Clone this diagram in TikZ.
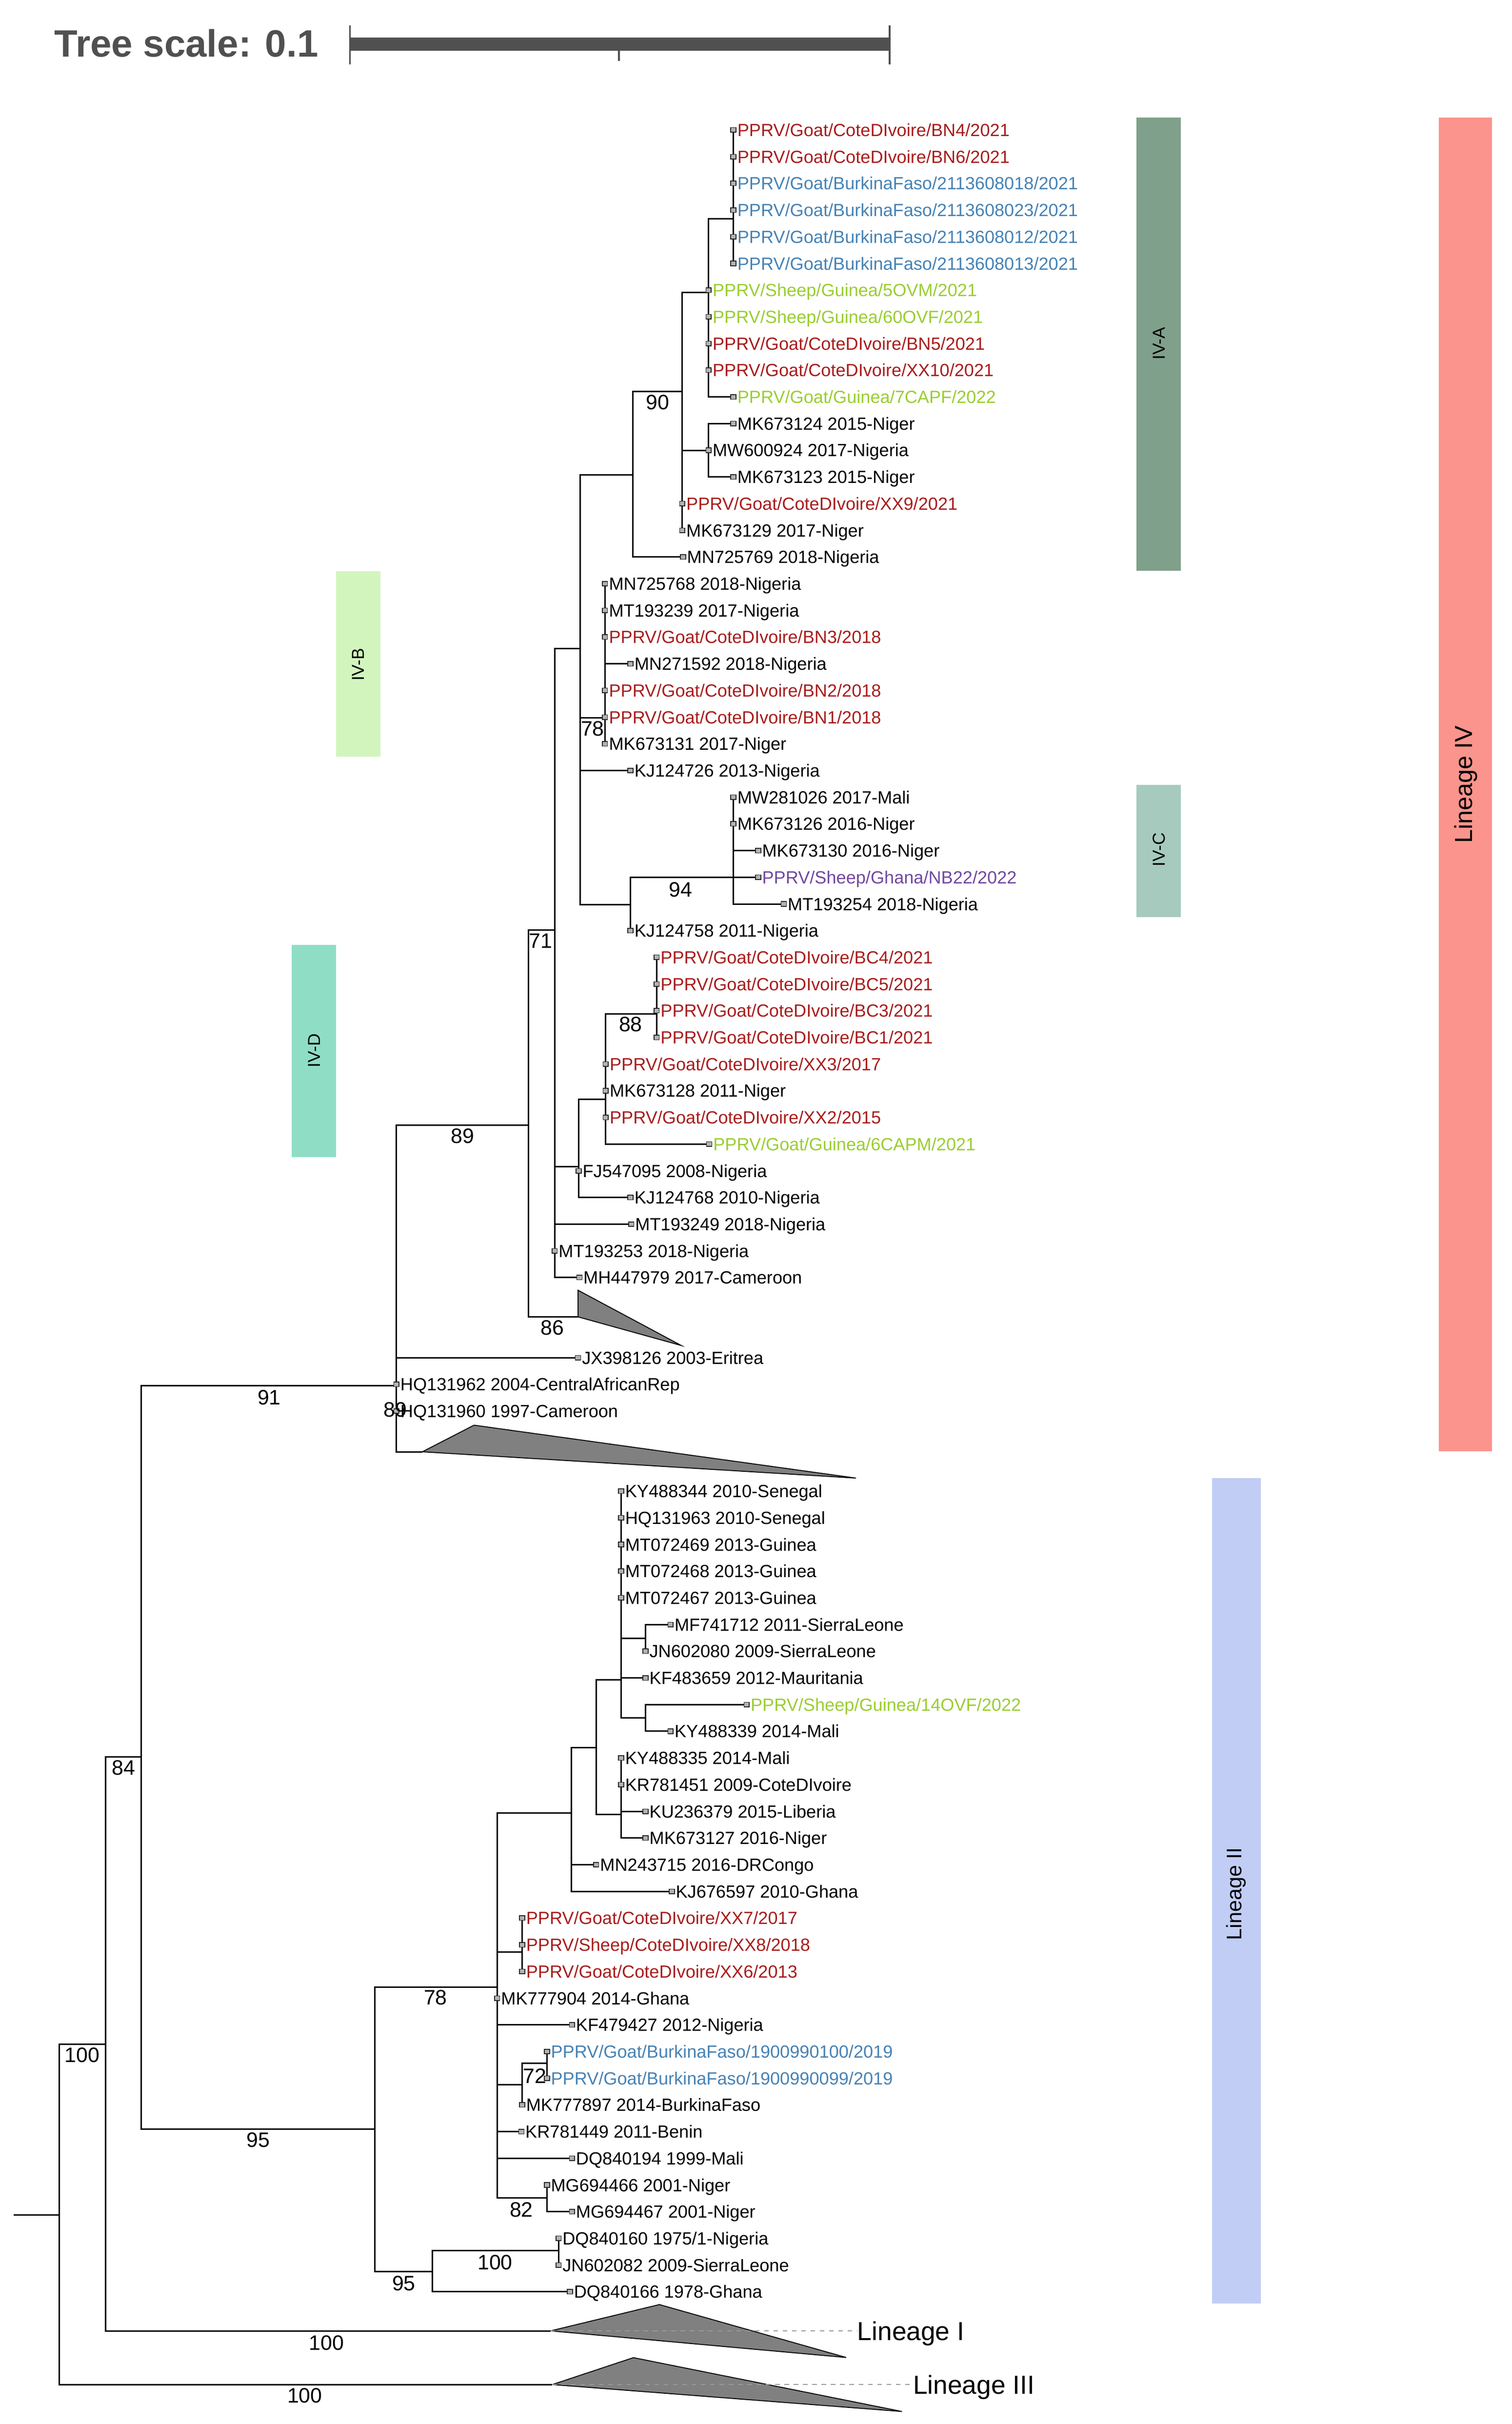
\documentclass[tikz,border=0pt]{standalone}
\usepackage{fontspec}
\setmainfont{Liberation Sans}
\definecolor{cred}{RGB}{168,28,28}
\definecolor{cblue}{RGB}{70,130,180}
\definecolor{cgreen}{RGB}{154,205,50}
\definecolor{cpurple}{RGB}{112,72,160}
\definecolor{cblack}{RGB}{0,0,0}
\definecolor{stripA}{RGB}{127,160,138}
\definecolor{stripB}{RGB}{210,245,190}
\definecolor{stripC}{RGB}{166,202,190}
\definecolor{stripD}{RGB}{144,221,198}
\definecolor{stripIV}{RGB}{250,148,140}
\definecolor{stripII}{RGB}{193,205,245}
\definecolor{scalegray}{RGB}{80,80,80}
\newcommand\mytip[5]{%
  \coordinate (#1) at (#2,{84+17.247*#3});
  \node[tiplabel,text=#4,anchor=base west] (#1t) at ([shift={(2.4,4.1)}]#1) {#5};}
\begin{document}
\begin{tikzpicture}[x=1pt,y=-1pt,
  branch/.style={line width=0.95pt,black},
  markbox/.style={rectangle,draw=black!85,fill=black!30,line width=0.5pt,minimum width=3.4pt,minimum height=3pt,inner sep=0pt},
  tiplabel/.style={inner sep=0pt,font=\fontsize{11.4}{13}\selectfont},
  support/.style={inner sep=0pt,font=\fontsize{13.5}{15}\selectfont},
  clade/.style={fill=black!50,draw=black,line width=0.6pt,line join=miter},
  lineagelabel/.style={inner sep=0pt,font=\fontsize{16.8}{19}\selectfont,anchor=base west},
  striplabel/.style={inner sep=0pt,rotate=90}]
\useasboundingbox (0,0) rectangle (977,1566.5);

% ---------- colour strips ----------
\fill[stripA] (734.4,76.1) rectangle (763.2,368.9);
\fill[stripC] (734.4,507.2) rectangle (763.2,592.6);
\fill[stripB] (217.3,369.3) rectangle (246,489);
\fill[stripD] (188.6,610.5) rectangle (217.3,747.9);
\fill[stripIV] (930,76.1) rectangle (964.5,938);
\fill[stripII] (783.3,955.2) rectangle (814.8,1488.6);
\node[striplabel,font=\fontsize{11.2}{13}\selectfont] (labA) at (749,222) {IV-A};
\node[striplabel,font=\fontsize{11.2}{13}\selectfont] (labC) at (749,549) {IV-C};
\node[striplabel,font=\fontsize{11.2}{13}\selectfont] (labB) at (231.5,429.5) {IV-B};
\node[striplabel,font=\fontsize{11.2}{13}\selectfont] (labD) at (203,679) {IV-D};
\node[striplabel,font=\fontsize{15.9}{18}\selectfont] (labIV) at (947.5,507) {Lineage IV};
\node[striplabel,font=\fontsize{13.6}{16}\selectfont] (labII) at (799,1224) {Lineage II};

% ---------- tree scale ----------
\node[inner sep=0pt,anchor=west,text=scalegray,font=\bfseries\fontsize{24.6}{28}\selectfont] (tscale) at (35,28) {Tree scale: 0.1};
\coordinate (sb0) at (226.2,28.5);
\coordinate (sb1) at (575,28.5);
\coordinate (sbm) at (400,28.5);
\draw[scalegray,line width=8.6pt] (sb0) -- (sb1);
\draw[scalegray,line width=1.1pt] ([yshift=12.2pt]sb0) -- ([yshift=-13pt]sb0);
\draw[scalegray,line width=1.1pt] ([yshift=12.2pt]sb1) -- ([yshift=-13pt]sb1);
\draw[scalegray,line width=1.1pt] ([yshift=-4.3pt]sbm) -- ([yshift=-10.9pt]sbm);

% ---------- tips ----------
\mytip{t0}{474}{0}{cred}{PPRV/Goat/CoteDIvoire/BN4/2021}
\mytip{t1}{474}{1}{cred}{PPRV/Goat/CoteDIvoire/BN6/2021}
\mytip{t2}{474}{2}{cblue}{PPRV/Goat/BurkinaFaso/2113608018/2021}
\mytip{t3}{474}{3}{cblue}{PPRV/Goat/BurkinaFaso/2113608023/2021}
\mytip{t4}{474}{4}{cblue}{PPRV/Goat/BurkinaFaso/2113608012/2021}
\mytip{t5}{474}{5}{cblue}{PPRV/Goat/BurkinaFaso/2113608013/2021}
\mytip{t6}{458}{6}{cgreen}{PPRV/Sheep/Guinea/5OVM/2021}
\mytip{t7}{458}{7}{cgreen}{PPRV/Sheep/Guinea/60OVF/2021}
\mytip{t8}{458}{8}{cred}{PPRV/Goat/CoteDIvoire/BN5/2021}
\mytip{t9}{458}{9}{cred}{PPRV/Goat/CoteDIvoire/XX10/2021}
\mytip{t10}{474}{10}{cgreen}{PPRV/Goat/Guinea/7CAPF/2022}
\mytip{t11}{474}{11}{cblack}{MK673124 2015-Niger}
\mytip{t12}{458}{12}{cblack}{MW600924 2017-Nigeria}
\mytip{t13}{474}{13}{cblack}{MK673123 2015-Niger}
\mytip{t14}{441}{14}{cred}{PPRV/Goat/CoteDIvoire/XX9/2021}
\mytip{t15}{441}{15}{cblack}{MK673129 2017-Niger}
\mytip{t16}{441.5}{16}{cblack}{MN725769 2018-Nigeria}
\mytip{t17}{391}{17}{cblack}{MN725768 2018-Nigeria}
\mytip{t18}{391}{18}{cblack}{MT193239 2017-Nigeria}
\mytip{t19}{391}{19}{cred}{PPRV/Goat/CoteDIvoire/BN3/2018}
\mytip{t20}{407.5}{20}{cblack}{MN271592 2018-Nigeria}
\mytip{t21}{391}{21}{cred}{PPRV/Goat/CoteDIvoire/BN2/2018}
\mytip{t22}{391}{22}{cred}{PPRV/Goat/CoteDIvoire/BN1/2018}
\mytip{t23}{391}{23}{cblack}{MK673131 2017-Niger}
\mytip{t24}{407.5}{24}{cblack}{KJ124726 2013-Nigeria}
\mytip{t25}{474}{25}{cblack}{MW281026 2017-Mali}
\mytip{t26}{474}{26}{cblack}{MK673126 2016-Niger}
\mytip{t27}{490}{27}{cblack}{MK673130 2016-Niger}
\mytip{t28}{490}{28}{cpurple}{PPRV/Sheep/Ghana/NB22/2022}
\mytip{t29}{506.6}{29}{cblack}{MT193254 2018-Nigeria}
\mytip{t30}{407.5}{30}{cblack}{KJ124758 2011-Nigeria}
\mytip{t31}{424.4}{31}{cred}{PPRV/Goat/CoteDIvoire/BC4/2021}
\mytip{t32}{424.4}{32}{cred}{PPRV/Goat/CoteDIvoire/BC5/2021}
\mytip{t33}{424.4}{33}{cred}{PPRV/Goat/CoteDIvoire/BC3/2021}
\mytip{t34}{424.4}{34}{cred}{PPRV/Goat/CoteDIvoire/BC1/2021}
\mytip{t35}{391.5}{35}{cred}{PPRV/Goat/CoteDIvoire/XX3/2017}
\mytip{t36}{391.5}{36}{cblack}{MK673128 2011-Niger}
\mytip{t37}{391.5}{37}{cred}{PPRV/Goat/CoteDIvoire/XX2/2015}
\mytip{t38}{458.4}{38}{cgreen}{PPRV/Goat/Guinea/6CAPM/2021}
\mytip{t39}{374}{39}{cblack}{FJ547095 2008-Nigeria}
\mytip{t40}{407.5}{40}{cblack}{KJ124768 2010-Nigeria}
\mytip{t41}{408}{41}{cblack}{MT193249 2018-Nigeria}
\mytip{t42}{358.5}{42}{cblack}{MT193253 2018-Nigeria}
\mytip{t43}{374.5}{43}{cblack}{MH447979 2017-Cameroon}
\mytip{t46}{373.6}{46}{cblack}{JX398126 2003-Eritrea}
\mytip{t47}{256.2}{47}{cblack}{HQ131962 2004-CentralAfricanRep}
\mytip{t48}{256.2}{48}{cblack}{HQ131960 1997-Cameroon}
\mytip{t51}{401.5}{51}{cblack}{KY488344 2010-Senegal}
\mytip{t52}{401.5}{52}{cblack}{HQ131963 2010-Senegal}
\mytip{t53}{401.5}{53}{cblack}{MT072469 2013-Guinea}
\mytip{t54}{401.5}{54}{cblack}{MT072468 2013-Guinea}
\mytip{t55}{401.5}{55}{cblack}{MT072467 2013-Guinea}
\mytip{t56}{433.4}{56}{cblack}{MF741712 2011-SierraLeone}
\mytip{t57}{417.2}{57}{cblack}{JN602080 2009-SierraLeone}
\mytip{t58}{417.2}{58}{cblack}{KF483659 2012-Mauritania}
\mytip{t59}{482.6}{59}{cgreen}{PPRV/Sheep/Guinea/14OVF/2022}
\mytip{t60}{433.4}{60}{cblack}{KY488339 2014-Mali}
\mytip{t61}{401.5}{61}{cblack}{KY488335 2014-Mali}
\mytip{t62}{401.5}{62}{cblack}{KR781451 2009-CoteDIvoire}
\mytip{t63}{417.2}{63}{cblack}{KU236379 2015-Liberia}
\mytip{t64}{417.2}{64}{cblack}{MK673127 2016-Niger}
\mytip{t65}{385.3}{65}{cblack}{MN243715 2016-DRCongo}
\mytip{t66}{434.2}{66}{cblack}{KJ676597 2010-Ghana}
\mytip{t67}{337.5}{67}{cred}{PPRV/Goat/CoteDIvoire/XX7/2017}
\mytip{t68}{337.5}{68}{cred}{PPRV/Sheep/CoteDIvoire/XX8/2018}
\mytip{t69}{337.5}{69}{cred}{PPRV/Goat/CoteDIvoire/XX6/2013}
\mytip{t70}{321.3}{70}{cblack}{MK777904 2014-Ghana}
\mytip{t71}{369.7}{71}{cblack}{KF479427 2012-Nigeria}
\mytip{t72}{353.5}{72}{cblue}{PPRV/Goat/BurkinaFaso/1900990100/2019}
\mytip{t73}{353.5}{73}{cblue}{PPRV/Goat/BurkinaFaso/1900990099/2019}
\mytip{t74}{337.5}{74}{cblack}{MK777897 2014-BurkinaFaso}
\mytip{t75}{337}{75}{cblack}{KR781449 2011-Benin}
\mytip{t76}{369.7}{76}{cblack}{DQ840194 1999-Mali}
\mytip{t77}{353.5}{77}{cblack}{MG694466 2001-Niger}
\mytip{t78}{369.7}{78}{cblack}{MG694467 2001-Niger}
\mytip{t79}{361}{79}{cblack}{DQ840160 1975/1-Nigeria}
\mytip{t80}{361}{80}{cblack}{JN602082 2009-SierraLeone}
\mytip{t81}{368.4}{81}{cblack}{DQ840166 1978-Ghana}

% ---------- internal nodes ----------
\coordinate (A1) at (474,141.4);
\coordinate (A2) at (458,189);
\coordinate (A4) at (458,291);
\coordinate (A3) at (441,253);
\coordinate (A5) at (409,307);
\coordinate (A6) at (391,464);
\coordinate (C2) at (474,567);
\coordinate (C1) at (407.5,584.6);
\coordinate (B1) at (375,419);
\coordinate (D3) at (424.4,655.3);
\coordinate (D2) at (391.5,710.5);
\coordinate (D1) at (374,754);
\coordinate (B0) at (358.5,601);
\coordinate (T86) at (373.6,851);
\coordinate (D71) at (341.5,727);
\coordinate (TBig) at (273,938.2);
\coordinate (N89) at (256.2,895.4);
\coordinate (L13) at (417.2,1110.1);
\coordinate (L12) at (417.2,1058.9);
\coordinate (L8) at (401.5,1085.5);
\coordinate (L11) at (401.5,1172.5);
\coordinate (L7) at (385.3,1129.5);
\coordinate (L2) at (369.4,1171.6);
\coordinate (L3) at (337.5,1261.4);
\coordinate (L5) at (353.5,1333.5);
\coordinate (L4) at (337.5,1347.3);
\coordinate (L6) at (353.5,1420.4);
\coordinate (L1) at (321.3,1284.3);
\coordinate (L10) at (361,1454.4);
\coordinate (L9) at (279.5,1467.9);
\coordinate (L0) at (242.2,1376);
\coordinate (R2) at (91.3,1135.5);
\coordinate (LinI) at (355.9,1506.3);
\coordinate (R1) at (68.2,1321);
\coordinate (LinIII) at (357,1541);
\coordinate (R0) at (38.3,1431.4);
\coordinate (root) at (8.9,1431.4);

% ---------- branches ----------
\foreach \c in {t0,t1,t2,t3,t4,t5} \draw[branch] (A1) |- (\c);
\foreach \c in {A1,t6,t7,t8,t9,t10} \draw[branch] (A2) |- (\c);
\foreach \c in {t11,t12,t13} \draw[branch] (A4) |- (\c);
\foreach \c in {A2,A4,t14,t15} \draw[branch] (A3) |- (\c);
\foreach \c in {A3,t16} \draw[branch] (A5) |- (\c);
\foreach \c in {t17,t18,t19,t20,t21,t22,t23} \draw[branch] (A6) |- (\c);
\foreach \c in {t25,t26,t27,t28,t29} \draw[branch] (C2) |- (\c);
\foreach \c in {C2,t30} \draw[branch] (C1) |- (\c);
\foreach \c in {A5,A6,t24,C1} \draw[branch] (B1) |- (\c);
\foreach \c in {t31,t32,t33,t34} \draw[branch] (D3) |- (\c);
\foreach \c in {D3,t35,t36,t37,t38} \draw[branch] (D2) |- (\c);
\foreach \c in {D2,t39,t40} \draw[branch] (D1) |- (\c);
\foreach \c in {B1,D1,t41,t42,t43} \draw[branch] (B0) |- (\c);
\foreach \c in {B0,T86} \draw[branch] (D71) |- (\c);
\foreach \c in {D71,t46,t47,t48,TBig} \draw[branch] (N89) |- (\c);
\foreach \c in {t59,t60} \draw[branch] (L13) |- (\c);
\foreach \c in {t56,t57} \draw[branch] (L12) |- (\c);
\foreach \c in {t51,t52,t53,t54,t55,L12,t58,L13} \draw[branch] (L8) |- (\c);
\foreach \c in {t61,t62,t63,t64} \draw[branch] (L11) |- (\c);
\foreach \c in {L8,L11} \draw[branch] (L7) |- (\c);
\foreach \c in {L7,t65,t66} \draw[branch] (L2) |- (\c);
\foreach \c in {t67,t68,t69} \draw[branch] (L3) |- (\c);
\foreach \c in {t72,t73} \draw[branch] (L5) |- (\c);
\foreach \c in {L5,t74} \draw[branch] (L4) |- (\c);
\foreach \c in {t77,t78} \draw[branch] (L6) |- (\c);
\foreach \c in {L2,L3,t70,t71,L4,t75,t76,L6} \draw[branch] (L1) |- (\c);
\foreach \c in {t79,t80} \draw[branch] (L10) |- (\c);
\foreach \c in {L10,t81} \draw[branch] (L9) |- (\c);
\foreach \c in {L1,L9} \draw[branch] (L0) |- (\c);
\foreach \c in {N89,L0} \draw[branch] (R2) |- (\c);
\foreach \c in {R2,LinI} \draw[branch] (R1) |- (\c);
\foreach \c in {R1,LinIII} \draw[branch] (R0) |- (\c);
\draw[branch] (root) -- (R0);

% ---------- collapsed clades ----------
\coordinate (T86a) at (373.6,833.8);
\coordinate (T86b) at (440.3,869.5);
\draw[clade] (T86) -- (T86a) -- (T86b) -- cycle;
\coordinate (TBiga) at (306.4,921);
\coordinate (TBigb) at (553.2,955.2);
\draw[clade] (TBig) -- (TBiga) -- (TBigb) -- cycle;
\coordinate (LinIa) at (426.2,1489.3);
\coordinate (LinIb) at (546.9,1523.5);
\draw[clade] (LinI) -- (LinIa) -- (LinIb) -- cycle;
\coordinate (LinIIIa) at (409.4,1523.6);
\coordinate (LinIIIb) at (583,1558.4);
\draw[clade] (LinIII) -- (LinIIIa) -- (LinIIIb) -- cycle;
\node[lineagelabel] (labI) at (554,1512.3) {Lineage I};
\node[lineagelabel] (labIII) at (590,1547) {Lineage III};
\draw[black!40,dashed,line width=0.6pt] (LinI) -- (labI.west |- LinI);
\draw[black!40,dashed,line width=0.6pt] (LinIII) -- (labIII.west |- LinIII);

% ---------- tip markers ----------
\foreach \n in {t0,t1,t2,t3,t4,t5,t6,t7,t8,t9,t10,t11,t12,t13,t14,t15,t16,t17,t18,t19,t20,t21,t22,t23,t24,t25,t26,t27,t28,t29,t30,t31,t32,t33,t34,t35,t36,t37,t38,t39,t40,t41,t42,t43,t46,t47,t48,t51,t52,t53,t54,t55,t56,t57,t58,t59,t60,t61,t62,t63,t64,t65,t66,t67,t68,t69,t70,t71,t72,t73,t74,t75,t76,t77,t78,t79,t80,t81}
  \node[markbox] at (\n) {};

% ---------- support values ----------
\node[support] (s1) at (425,260) {90};
\node[support] (s2) at (383,471) {78};
\node[support] (s3) at (440,575) {94};
\node[support] (s4) at (349.5,608) {71};
\node[support] (s5) at (407.6,662) {88};
\node[support] (s6) at (299,734) {89};
\node[support] (s7) at (357,858) {86};
\node[support] (s8) at (174,903) {91};
\node[support] (s9) at (255.5,911) {89};
\node[support] (s10) at (80,1142.5) {84};
\node[support] (s11) at (281.5,1291) {78};
\node[support] (s12) at (345.6,1341.5) {72};
\node[support] (s13) at (53,1328) {100};
\node[support] (s14) at (167,1383) {95};
\node[support] (s15) at (337,1428) {82};
\node[support] (s16) at (320,1462) {100};
\node[support] (s17) at (261,1475.5) {95};
\node[support] (s18) at (211,1514) {100};
\node[support] (s19) at (197,1548) {100};
\end{tikzpicture}
\end{document}
